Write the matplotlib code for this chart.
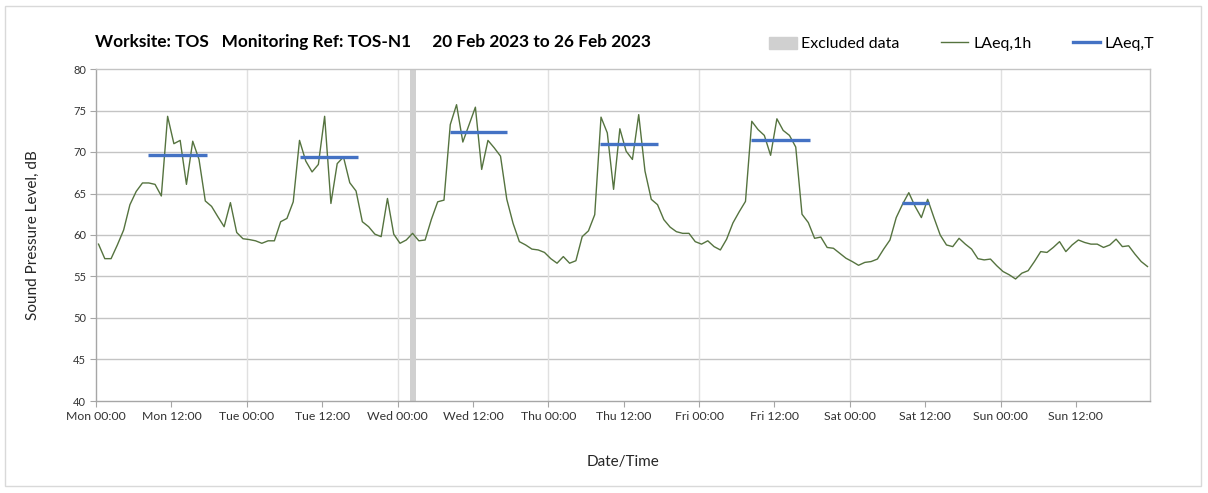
import numpy as np
import matplotlib.pyplot as plt
from matplotlib.patches import Patch, Rectangle
from matplotlib.lines import Line2D

plt.rcParams['font.family'] = ['Lato', 'DejaVu Sans']

# hourly LAeq,1h values, Mon 00:00 .. Sun 23:00
laeq_1h = [
    58.9, 57.15, 57.15, 58.8, 60.6, 63.65, 65.25, 66.27, 66.27, 66.1, 64.7, 74.3,
    71.0, 71.4, 66.1, 71.3, 69.1, 64.1, 63.45, 62.2, 61.0, 63.9, 60.3, 59.55,
    59.45, 59.3, 59.0, 59.3, 59.3, 61.6, 62.0, 64.0, 71.4, 68.9, 67.6, 68.5,
    74.3, 63.8, 68.6, 69.4, 66.3, 65.3, 61.6, 61.0, 60.1, 59.8, 64.4, 60.1,
    59.0, 59.4, 60.2, 59.3, 59.4, 61.9, 64.0, 64.2, 73.3, 75.7, 71.2, 73.3,
    75.4, 67.9, 71.4, 70.5, 69.5, 64.3, 61.4, 59.2, 58.8, 58.3, 58.2, 57.9,
    57.15, 56.6, 57.4, 56.6, 56.9, 59.8, 60.5, 62.45, 74.2, 72.3, 65.5, 72.8,
    70.1, 69.1, 74.5, 67.7, 64.3, 63.65, 61.85, 60.95, 60.4, 60.2, 60.2, 59.2,
    58.9, 59.3, 58.6, 58.2, 59.5, 61.45, 62.8, 64.05, 73.7, 72.7, 72.0, 69.6,
    74.0, 72.6, 72.0, 70.6, 62.5, 61.5, 59.6, 59.75, 58.5, 58.4, 57.8, 57.2,
    56.8, 56.35, 56.7, 56.8, 57.1, 58.3, 59.4, 62.1, 63.7, 65.1, 63.45, 62.1,
    64.3, 62.1, 60.0, 58.8, 58.6, 59.6, 58.9, 58.3, 57.15, 57.0, 57.1, 56.3,
    55.6, 55.2, 54.7, 55.4, 55.7, 56.8, 58.0, 57.9, 58.5, 59.2, 58.0, 58.8,
    59.4, 59.1, 58.9, 58.9, 58.5, 58.8, 59.5, 58.6, 58.7, 57.7, 56.8, 56.2,
]

# daytime LAeq,T per day (Mon..Sat), with start/end hour of the period
laeq_t = [69.6, 69.35, 72.4, 70.96, 71.5, 63.85]
t_start = [8.3, 32.4, 56.3, 80.3, 104.2, 128.3]
t_end = [17.7, 41.7, 65.5, 89.5, 113.6, 132.6]

# excluded data period (hours)
excl_start, excl_end = 49.95, 50.9

tick_labels = ['Mon 00:00', 'Mon 12:00', 'Tue 00:00', 'Tue 12:00', 'Wed 00:00', 'Wed 12:00',
               'Thu 00:00', 'Thu 12:00', 'Fri 00:00', 'Fri 12:00', 'Sat 00:00', 'Sat 12:00',
               'Sun 00:00', 'Sun 12:00']

hours = np.arange(len(laeq_1h)) + 0.4

fig = plt.figure(figsize=(12.08, 4.93), dpi=100)
ax = fig.add_axes([96 / 1208, 1 - 401 / 493, 1054 / 1208, 332 / 493])

green = '#55733f'
blue = '#4472c4'

ax.axvspan(excl_start, excl_end, color='#d0d0d0', lw=0, zorder=1)
ax.plot(hours, laeq_1h, color=green, lw=1.0, zorder=3)
ax.hlines(laeq_t, t_start, t_end, color=blue, lw=2.4, zorder=4)

ax.set_xlim(0, 167.8)
ax.set_ylim(40, 80)
ax.set_yticks(np.arange(40, 81, 5))
ax.set_xticks(np.arange(0, 168, 12))
ax.set_xticklabels(tick_labels)

# grid: horizontal every 5 dB, vertical at midnight only
for y in range(45, 80, 5):
    ax.axhline(y, color='#c4c4c4', lw=1.0, zorder=0)
for d in range(24, 168, 24):
    ax.axvline(d, color='#e0e0e0', lw=1.0, zorder=0)

for s in ['top', 'right']:
    ax.spines[s].set_color('#c4c4c4')
for s in ['left', 'bottom']:
    ax.spines[s].set_color('#a6a6a6')
for s in ax.spines.values():
    s.set_linewidth(1.0)

ax.tick_params(axis='x', labelsize=8.8, colors='#a6a6a6', labelcolor='#333333',
               length=4, pad=3)
ax.tick_params(axis='y', labelsize=8, colors='#a6a6a6', labelcolor='#333333',
               length=4, pad=3)

ax.set_ylabel('Sound Pressure Level, dB', fontsize=11, color='#262626', labelpad=24)
ax.set_xlabel('Date/Time', fontsize=11, color='#262626', labelpad=24)

fig.text(95 / 1208, 1 - 42 / 493,
         'Worksite: TOS   Monitoring Ref: TOS-N1     20 Feb 2023 to 26 Feb 2023',
         fontsize=12.4, fontweight='bold', va='center', ha='left', color='black')

handles = [Patch(color='#d0d0d0', label='Excluded data'),
           Line2D([], [], color=green, lw=1.0, label='LAeq,1h'),
           Line2D([], [], color=blue, lw=2.4, label='LAeq,T')]
fig.legend(handles=handles, loc='center right', bbox_to_anchor=(1169 / 1208, 1 - 44 / 493),
           ncol=3, frameon=False, fontsize=11.5, handlelength=1.7, handletextpad=0.3,
           columnspacing=2.6, handleheight=0.8)

fig.add_artist(Rectangle((5 / 1208, 7 / 493), 1196 / 1208, 480 / 493,
                         transform=fig.transFigure, fill=False, edgecolor='#d9d9d9', lw=1.0))

fig.savefig('out.png', dpi=100)
